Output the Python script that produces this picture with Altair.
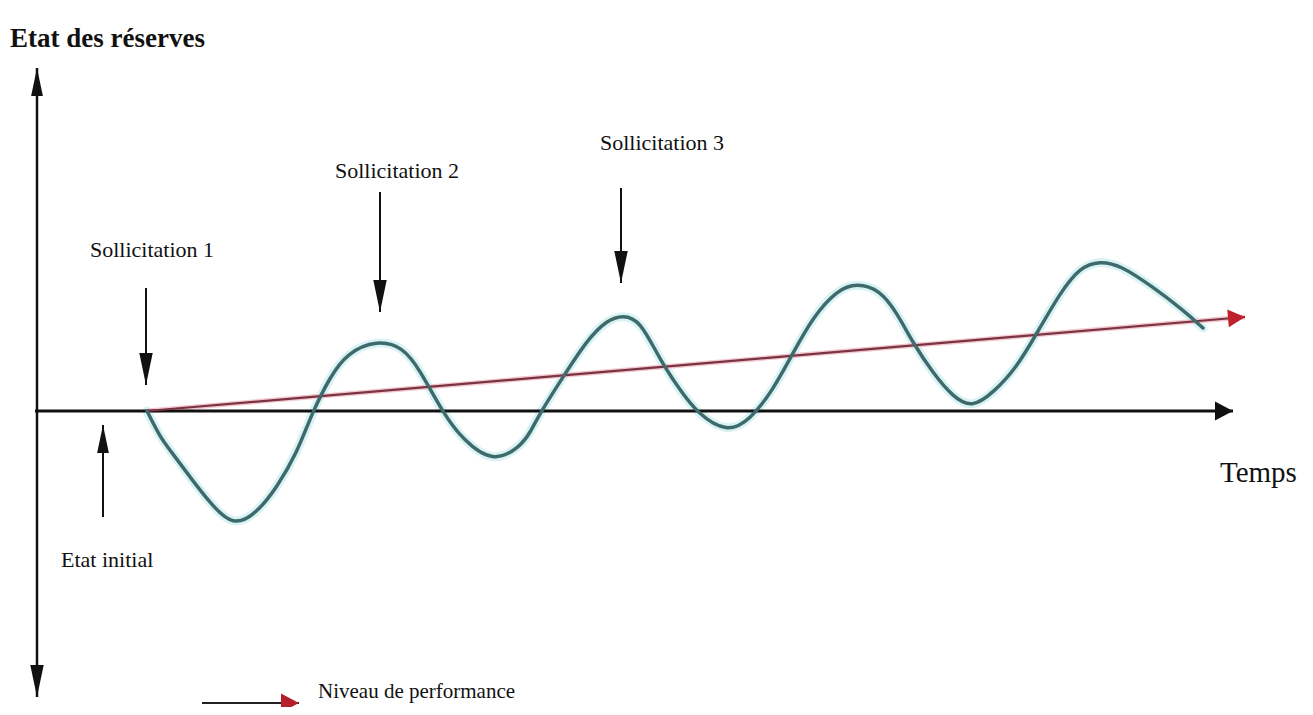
import math
import altair as alt
import pandas as pd

# ---- data (time units / reserve level, baseline = 0) ----
TIME = [147, 160, 170, 190, 210, 233, 257, 277, 297, 312, 330, 347, 377, 403, 420, 443,
        463, 493, 520, 530, 540, 563, 587, 607, 623, 640, 660, 680, 697, 727, 750, 773,
        793, 813, 837, 857, 880, 897, 913, 933, 953, 972, 993, 1017, 1037, 1060, 1080,
        1100, 1120, 1153, 1183, 1203]
RESERVE = [0, -26, -39, -66, -92, -116, -102, -76, -42, -2, 34, 58, 71, 64, 41, -2,
           -29, -52, -36, -22, -2, 34, 71, 91, 96, 91, 51, 21, -2, -22, -9, 21,
           58, 94, 121, 128, 121, 98, 68, 38, 14, 3, 18, 44, 78, 118, 144,
           150, 146, 124, 101, 83]

TREND_T = [147, 1245]
TREND_R = [0, 94]

# arrows: tail -> tip
ARROW_NAMES = ["axe_y_haut", "axe_y_bas", "axe_x", "sol1", "sol2", "sol3", "initial", "tendance", "legende"]
ARROW_T1 = [37, 37, 35, 146, 380, 621, 103, 147, 202]
ARROW_R1 = [0, 0, 0, 123, 219, 223, -106, 0, -292]
ARROW_T2 = [37, 37, 1233, 146, 380, 621, 103, 1245, 299]
ARROW_R2 = [343, -286, 0, 26, 99, 128, -14, 94, -292]
ARROW_HEAD = [28, 32, 18, 32, 32, 32, 28, 17, 18]
ARROW_WIDE = [False, False, True, False, False, False, False, True, True]
ARROW_SHAFT = [2.5, 2.5, 3, 2, 2, 2, 2, 0, 2]
ARROW_SHAFT_COLOR = ["#111111"] * 8 + ["#222222"]
ARROW_HEAD_COLOR = ["#111111"] * 7 + ["#c01f2c", "#b3202c"]

LABELS = ["Sollicitation 1", "Sollicitation 2", "Sollicitation 3", "Etat initial", "Temps",
          "Niveau de performance"]
LABEL_T = [90, 335, 600, 61, 1220, 318]
LABEL_R = [154, 233, 261, -156, -71, -287]
LABEL_SIZE = [22, 22, 22, 22, 29, 21]

TITLE = "Etat des réserves"
TITLE_T = [10]
TITLE_R = [364]

FONT = "Liberation Serif"

X_SCALE = alt.Scale(domain=[8, 1305], nice=False, zero=False)
Y_SCALE = alt.Scale(domain=[-296, 403], nice=False, zero=False)


def X(field="t"):
    return alt.X(f"{field}:Q", scale=X_SCALE, axis=None)


def Y(field="r"):
    return alt.Y(f"{field}:Q", scale=Y_SCALE, axis=None)


wave = pd.DataFrame({"t": TIME, "r": RESERVE})
trend = pd.DataFrame({"t": TREND_T, "r": TREND_R})

rows = []
for i, name in enumerate(ARROW_NAMES):
    dx = ARROW_T2[i] - ARROW_T1[i]
    dy_screen = -(ARROW_R2[i] - ARROW_R1[i])
    ang = math.degrees(math.atan2(dx, -dy_screen)) % 360
    rows.append(dict(name=name, t=ARROW_T1[i], r=ARROW_R1[i], t2=ARROW_T2[i], r2=ARROW_R2[i],
                     head=ARROW_HEAD[i] ** 2, angle=ang,
                     shape="M0,0L1.05,2L-1.05,2Z" if ARROW_WIDE[i] else "M0,0L0.42,2L-0.42,2Z",
                     sw=ARROW_SHAFT[i], scol=ARROW_SHAFT_COLOR[i], hcol=ARROW_HEAD_COLOR[i]))
arrows = pd.DataFrame(rows)
shafts = arrows[arrows.sw > 0]

labels = pd.DataFrame({"label": LABELS, "t": LABEL_T, "r": LABEL_R, "size": LABEL_SIZE})
title = pd.DataFrame({"label": [TITLE], "t": TITLE_T, "r": TITLE_R})

wave_halo = alt.Chart(wave).mark_line(interpolate="basis", color="#d9f3f5", strokeWidth=9,
                                      strokeCap="round").encode(x=X(), y=Y(), order="t:Q")
wave_line = alt.Chart(wave).mark_line(interpolate="basis", color="#3f6a6c", strokeWidth=3.5,
                                      strokeCap="round").encode(x=X(), y=Y(), order="t:Q")

trend_halo = alt.Chart(trend).mark_line(color="#f3c9d1", strokeWidth=5).encode(x=X(), y=Y())
trend_line = alt.Chart(trend).mark_line(color="#7a3341", strokeWidth=2.2).encode(x=X(), y=Y())

shaft_layer = alt.Chart(shafts).mark_rule(strokeCap="butt").encode(
    x=X(), y=Y(), x2="t2:Q", y2="r2:Q",
    strokeWidth=alt.StrokeWidth("sw:Q", scale=None),
    color=alt.Color("scol:N", scale=None),
)

heads = alt.Chart(arrows).mark_point(filled=True, opacity=1, strokeWidth=0).encode(
    x=X("t2"), y=Y("r2"),
    shape=alt.Shape("shape:N", scale=None),
    size=alt.Size("head:Q", scale=None),
    angle=alt.Angle("angle:Q", scale=None),
    color=alt.Color("hcol:N", scale=None),
)

text_layer = alt.Chart(labels).mark_text(font=FONT, align="left", baseline="alphabetic",
                                         color="#111111").encode(
    x=X(), y=Y(), text="label:N", size=alt.Size("size:Q", scale=None))

title_layer = alt.Chart(title).mark_text(font=FONT, fontSize=27, fontWeight="bold", align="left",
                                         baseline="alphabetic", color="#111111").encode(
    x=X(), y=Y(), text="label:N")

chart = alt.layer(wave_halo, trend_halo, shaft_layer, trend_line, wave_line, heads,
                  text_layer, title_layer).properties(
    width=1297, height=699, padding=0, autosize="none", background="white"
).configure_view(stroke=None)

chart.save("out.html", embed_options={"renderer": "svg", "actions": False})
